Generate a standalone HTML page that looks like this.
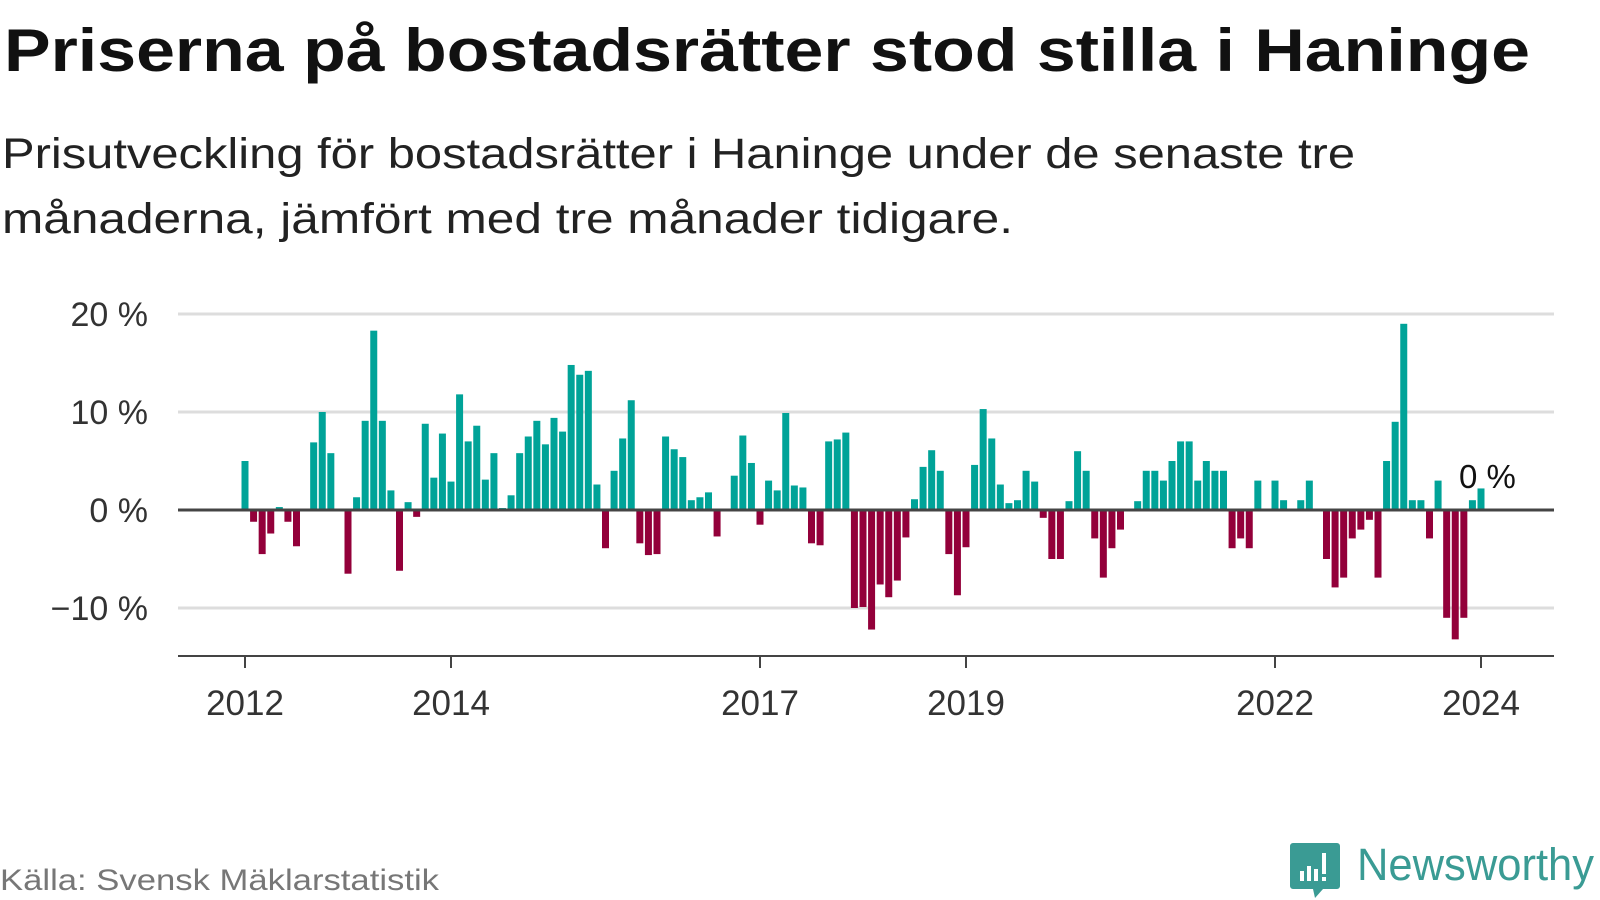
<!DOCTYPE html>
<html><head><meta charset="utf-8"><style>
html,body{margin:0;padding:0;background:#fff;}
svg{display:block;font-family:"Liberation Sans",sans-serif;}
</style></head><body>
<svg id="chart" width="1600" height="900" viewBox="0 0 1600 900">
<text x="4" y="71" font-size="60" font-weight="bold" fill="#111" textLength="1526" lengthAdjust="spacingAndGlyphs">Priserna på bostadsrätter stod stilla i Haninge</text>
<text x="2" y="168" font-size="43" fill="#222" textLength="1353" lengthAdjust="spacingAndGlyphs">Prisutveckling för bostadsrätter i Haninge under de senaste tre</text>
<text x="2" y="233" font-size="43" fill="#222" textLength="1011" lengthAdjust="spacingAndGlyphs">månaderna, jämfört med tre månader tidigare.</text>
<g id="grid"></g>
<g id="bars"></g>
<g id="axes"></g>
<text x="1459" y="488" font-size="33" fill="#111">0 %</text>
<text x="0" y="890" font-size="30" fill="#777" textLength="439" lengthAdjust="spacingAndGlyphs">Källa: Svensk Mäklarstatistik</text>
<g>
<path d="M1293 843 h44 a3 3 0 0 1 3 3 v40 a3 3 0 0 1 -3 3 h-14 l-8 9 l-2 -9 h-20 a3 3 0 0 1 -3 -3 v-40 a3 3 0 0 1 3 -3z" fill="#3a9b94"/>
<rect x="1300" y="871" width="4" height="10" fill="#fff"/>
<rect x="1307" y="866" width="4" height="15" fill="#fff"/>
<rect x="1314" y="869" width="4" height="12" fill="#fff"/>
<rect x="1322" y="853" width="4" height="21" fill="#fff"/>
<rect x="1322" y="877" width="4" height="4" fill="#fff"/>
<text x="1357" y="880" font-size="45" fill="#3a9b94" textLength="237" lengthAdjust="spacingAndGlyphs">Newsworthy</text>
</g>
</svg>
<script>
const values = [5.0,-1.2,-4.5,-2.4,0.3,-1.2,-3.7,0,6.9,10.0,5.8,0,-6.5,1.3,9.1,18.3,9.1,2.0,-6.2,0.8,-0.7,8.8,3.3,7.8,2.9,11.8,7.0,8.6,3.1,5.8,0.2,1.5,5.8,7.5,9.1,6.7,9.4,8.0,14.8,13.8,14.2,2.6,-3.9,4.0,7.3,11.2,-3.4,-4.6,-4.5,7.5,6.2,5.4,1.0,1.3,1.8,-2.7,0,3.5,7.6,4.8,-1.5,3.0,2.0,9.9,2.5,2.3,-3.4,-3.6,7.0,7.2,7.9,-10.0,-9.9,-12.2,-7.6,-8.9,-7.2,-2.8,1.1,4.4,6.1,4.0,-4.5,-8.7,-3.8,4.6,10.3,7.3,2.6,0.7,1.0,4.0,2.9,-0.8,-5.0,-5.0,0.9,6.0,4.0,-2.9,-6.9,-3.9,-2.0,0,0.9,4.0,4.0,3.0,5.0,7.0,7.0,3.0,5.0,4.0,4.0,-3.9,-2.9,-3.9,3.0,0,3.0,1.0,0,1.0,3.0,0,-5.0,-7.9,-6.9,-2.9,-2.0,-1.0,-6.9,5.0,9.0,19.0,1.0,1.0,-2.9,3.0,-11.0,-13.2,-11.0,1.0,2.2];
const startYear = 2012;
const yTicks = [20,10,0,-10];
const yTickLabels = ["20 %","10 %","0 %","−10 %"];
const xTickYears = [2012,2014,2017,2019,2022,2024];

const NS="http://www.w3.org/2000/svg";
const x0=245, x1=1481, plotL=178, plotR=1554;
const xScale = i => x0 + (x1-x0)*i/144;
const yScale = v => 510 - v*9.8;
const bw=7;
const grid=document.getElementById('grid'), bars=document.getElementById('bars'), axes=document.getElementById('axes');
function mk(tag,attrs,parent){const e=document.createElementNS(NS,tag);for(const k in attrs)e.setAttribute(k,attrs[k]);parent.appendChild(e);return e;}
yTicks.forEach((t,i)=>{
  if(t!==0){
    const l=mk('line',{x1:plotL,x2:plotR,y1:yScale(t),y2:yScale(t),stroke:'#ddd','stroke-width':3},grid);
    
    
  }
  const tx=mk('text',{x:148,y:yScale(t)+12,'font-size':34,fill:'#333','text-anchor':'end'},axes);
  tx.textContent=yTickLabels[i];
  
  
});
values.forEach((v,i)=>{
  if(v===0)return;
  const y=Math.min(yScale(v),yScale(0));
  const r=mk('rect',{x:xScale(i)-bw/2,y:y,width:bw,height:Math.abs(yScale(v)-yScale(0)),fill:v>0?'#00a398':'#93003a'},bars);
  
  
});
const z=mk('line',{x1:plotL,x2:plotR,y1:yScale(0),y2:yScale(0),stroke:'#444','stroke-width':3},axes);


const b=mk('line',{x1:plotL,x2:plotR,y1:656,y2:656,stroke:'#444','stroke-width':2},axes);


xTickYears.forEach(yr=>{
  const x=xScale((yr-startYear)*12);
  const t=mk('line',{x1:x,x2:x,y1:656,y2:668,stroke:'#444','stroke-width':2},axes);
  
  
  const tx=mk('text',{x:x,y:715,'font-size':35,fill:'#333','text-anchor':'middle'},axes);
  tx.textContent=yr;
  
  
});
</script>
</body></html>
